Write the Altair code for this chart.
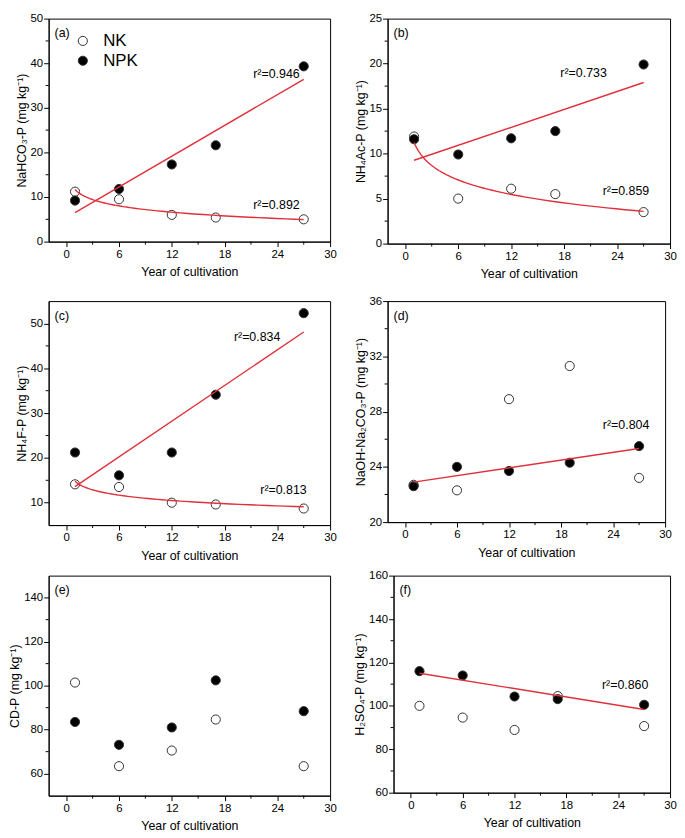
import altair as alt
import pandas as pd

FONT = "Liberation Sans"
RED = "#e0303c"

# ---- data ----
years = [1, 6, 12, 17, 27]
years_d = [1, 6, 12, 19, 27]

a_nk = [11.2, 9.5, 6.0, 5.4, 5.0]
a_npk = [9.2, 11.8, 17.3, 21.6, 39.3]
b_nk = [11.9, 5.0, 6.1, 5.5, 3.5]
b_npk = [11.6, 9.9, 11.7, 12.5, 19.9]
c_nk = [14.1, 13.5, 10.0, 9.6, 8.7]
c_npk = [21.2, 16.1, 21.2, 34.1, 52.3]
d_nk = [22.7, 22.3, 28.9, 31.3, 23.2]
d_npk = [22.6, 24.0, 23.7, 24.3, 25.5]
e_nk = [101.4, 63.4, 70.5, 84.6, 63.4]
e_npk = [83.5, 73.1, 81.0, 102.4, 88.4]
f_nk = [100.0, 94.6, 88.9, 104.5, 90.7]
f_npk = [116.0, 114.0, 104.3, 103.1, 100.5]

x_ticks = [0, 6, 12, 18, 24, 30]
x_minor = [3, 9, 15, 21, 27]

a_yticks = [0, 10, 20, 30, 40, 50]
b_yticks = [0, 5, 10, 15, 20, 25]
c_yticks = [10, 20, 30, 40, 50]
d_yticks = [20, 24, 28, 32, 36]
e_yticks = [60, 80, 100, 120, 140]
f_yticks = [60, 80, 100, 120, 140, 160]

a_ymin = [5, 15, 25, 35, 45]
b_ymin = [2.5, 7.5, 12.5, 17.5, 22.5]
c_ymin = [15, 25, 35, 45]
d_ymin = [22, 26, 30, 34]
e_ymin = [70, 90, 110, 130]
f_ymin = [70, 90, 110, 130, 150]

a_r2 = {"x": [23.9, 23.9], "y": [37.5, 8.2], "t": ["r²=0.946", "r²=0.892"]}
b_r2 = {"x": [20.2, 25.0], "y": [18.9, 5.8], "t": ["r²=0.733", "r²=0.859"]}
c_r2 = {"x": [21.7, 24.7], "y": [46.9, 12.8], "t": ["r²=0.834", "r²=0.813"]}
d_r2 = {"x": [25.5], "y": [27.0], "t": ["r²=0.804"]}
e_r2 = {"x": [], "y": [], "t": []}
f_r2 = {"x": [24.8], "y": [109.4], "t": ["r²=0.860"]}

series = ["NK", "NPK"]


def panel(label, xs, nk, npk, ydom, yticks, yminor, ytitle, r2, fits,
          w, h, legend=False):
    df = pd.DataFrame({
        "x": list(xs) + list(xs),
        "y": list(nk) + list(npk),
        "series": ["NK"] * len(nk) + ["NPK"] * len(npk),
    })
    xscale = alt.Scale(domain=[-2, 30], nice=False, zero=False)
    yscale = alt.Scale(domain=ydom, nice=False, zero=False)
    xaxis = alt.Axis(values=x_ticks, title="Year of cultivation", format="d")
    yaxis = alt.Axis(values=yticks, title=ytitle, format="d")

    def X(f):
        return alt.X(f, scale=xscale, axis=xaxis)

    def Y(f):
        return alt.Y(f, scale=yscale, axis=yaxis)

    if legend:
        leg = alt.Legend(orient="top-left", offset=14, title=None,
                         symbolType="circle", symbolSize=85,
                         symbolOffset=12,
                         symbolStrokeColor="#333", symbolStrokeWidth=1,
                         labelFontSize=17, labelFont=FONT, labelOffset=12,
                         rowPadding=2, padding=0, labelColor="black")
    else:
        leg = None

    pts = alt.Chart(df).mark_point(shape="circle", size=85, stroke="#333",
                                   strokeWidth=1, opacity=1,
                                   fillOpacity=1).encode(
        x=X("x:Q"), y=Y("y:Q"),
        fill=alt.Fill("series:N",
                      scale=alt.Scale(domain=series, range=["white", "black"]),
                      legend=leg),
    )

    layers = [pts]
    for s, method in fits:
        reg = alt.Chart(df).transform_filter(
            alt.datum.series == s
        ).transform_regression("x", "y", method=method).mark_line(
            color=RED, strokeWidth=1.4
        ).encode(x=X("x:Q"), y=Y("y:Q"))
        layers.append(reg)

    if r2["t"]:
        txt = alt.Chart(pd.DataFrame(r2)).mark_text(
            fontSize=12.5, font=FONT, color="black"
        ).encode(x=X("x:Q"), y=Y("y:Q"), text="t:N")
        layers.append(txt)

    lab = alt.Chart(pd.DataFrame({"t": [label]})).mark_text(
        align="left", baseline="middle", fontSize=12.5, font=FONT,
        color="black"
    ).encode(x=alt.value(6), y=alt.value(15), text="t:N")
    layers.append(lab)

    xm = alt.Chart(pd.DataFrame({"x": x_minor})).mark_rule(
        color="black", strokeWidth=1
    ).encode(x=X("x:Q"), y=alt.value(h), y2=alt.value(h + 3))
    ym = alt.Chart(pd.DataFrame({"y": yminor})).mark_rule(
        color="black", strokeWidth=1
    ).encode(y=Y("y:Q"), x=alt.value(0), x2=alt.value(-3))
    layers += [xm, ym]

    return alt.layer(*layers).properties(width=w, height=h)


pa = panel("(a)", years, a_nk, a_npk, [0, 50], a_yticks, a_ymin,
           "NaHCO₃-P (mg kg⁻¹)", a_r2, [("NPK", "linear"), ("NK", "log")],
           284, 225, legend=True)
pb = panel("(b)", years, b_nk, b_npk, [0, 25], b_yticks, b_ymin,
           "NH₄Ac-P (mg kg⁻¹)", b_r2, [("NPK", "linear"), ("NK", "log")],
           285, 227)
pc = panel("(c)", years, c_nk, c_npk, [5, 55], c_yticks, c_ymin,
           "NH₄F-P (mg kg⁻¹)", c_r2, [("NPK", "linear"), ("NK", "log")],
           284, 226)
pd_ = panel("(d)", years_d, d_nk, d_npk, [20, 36], d_yticks, d_ymin,
            "NaOH-Na₂CO₃-P (mg kg⁻¹)", d_r2, [("NPK", "linear")],
            280, 223)
pe = panel("(e)", years, e_nk, e_npk, [50, 150], e_yticks, e_ymin,
           "CD-P (mg kg⁻¹)", e_r2, [], 284, 222)
pf = panel("(f)", years, f_nk, f_npk, [60, 160], f_yticks, f_ymin,
           "H₂SO₄-P (mg kg⁻¹)", f_r2, [("NPK", "linear")], 279, 219)

row1 = alt.hconcat(pa, pb, spacing=16).resolve_scale(fill="independent")
row2 = alt.hconcat(pc, pd_, spacing=16).resolve_scale(fill="independent")
row3 = alt.hconcat(pe, pf, spacing=16).resolve_scale(fill="independent")

top = alt.vconcat(row1, row2, spacing=13).resolve_scale(fill="independent")

chart = alt.vconcat(top, row3, spacing=6).resolve_scale(
    fill="independent"
).properties(
    padding={"left": 0, "top": 0, "right": 0, "bottom": 0}
).configure_view(
    stroke="black", strokeWidth=1
).configure_axis(
    labelFont=FONT, titleFont=FONT, labelFontSize=11.5, titleFontSize=12.5,
    titleFontWeight="normal", labelColor="black", titleColor="black",
    domainColor="black", tickColor="black", tickSize=5, grid=False,
    labelPadding=2, titlePadding=6, domainWidth=1, tickWidth=1,
    labelFlush=False
).configure_axisY(
    titlePadding=2, labelPadding=1
)

chart.save("out.html", embed_options={"renderer": "svg", "actions": False})
